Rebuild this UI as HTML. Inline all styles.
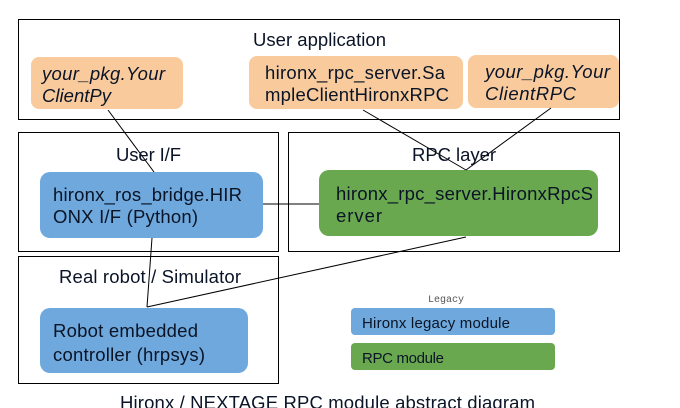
<!DOCTYPE html>
<html><head><meta charset="utf-8"><style>
html,body{margin:0;padding:0;background:#fff;width:680px;height:408px;overflow:hidden}
svg{display:block}
</style></head><body>
<svg width="680" height="408" viewBox="0 0 680 408" font-family="'Liberation Sans', Arial, sans-serif">
<g fill="none" stroke="#000" stroke-width="1">
<rect x="18.5" y="19.5" width="601" height="100"/>
<rect x="18.5" y="132.5" width="260" height="119"/>
<rect x="288.5" y="132.5" width="331" height="119"/>
<rect x="18.5" y="256.5" width="260" height="127"/>
</g>
<g fill="#f9cb9c">
<rect x="31" y="57" width="152" height="52" rx="8"/>
<rect x="249" y="56" width="214" height="53" rx="8"/>
<rect x="468" y="55" width="151" height="53" rx="8"/>
</g>
<rect x="40" y="172" width="223" height="66" rx="10" fill="#6fa8dc"/>
<rect x="319" y="170" width="279" height="66" rx="10" fill="#6aa84f"/>
<rect x="40" y="308" width="208" height="65" rx="10" fill="#6fa8dc"/>
<rect x="351" y="308" width="204" height="27" rx="4" fill="#6fa8dc"/>
<rect x="351" y="343" width="204" height="27" rx="4" fill="#6aa84f"/>
<g stroke="#000" stroke-width="1" fill="none">
<line x1="108" y1="110" x2="154" y2="172"/>
<line x1="363" y1="110" x2="466" y2="170"/>
<line x1="551" y1="108" x2="466" y2="170"/>
<line x1="263" y1="204" x2="319" y2="204"/>
<line x1="152" y1="238" x2="147" y2="307"/>
<line x1="466" y1="237" x2="147" y2="307"/>
</g>
<g font-size="18.5" fill="#0a1426">
<text x="253" y="46" textLength="133">User application</text>
<text x="116" y="161" textLength="65">User I/F</text>
<text x="412" y="161" textLength="84">RPC layer</text>
<text x="59" y="283" textLength="182">Real robot / Simulator</text>
<text x="42" y="80" font-style="italic" textLength="123">your_pkg.Your</text>
<text x="42" y="102" font-style="italic" textLength="69">ClientPy</text>
<text x="265" y="79" textLength="180">hironx_rpc_server.Sa</text>
<text x="265" y="101" textLength="184">mpleClientHironxRPC</text>
<text x="485" y="78" font-style="italic" textLength="125">your_pkg.Your</text>
<text x="485" y="100" font-style="italic" textLength="91">ClientRPC</text>
<text x="53" y="201" textLength="189">hironx_ros_bridge.HIR</text>
<text x="53" y="223" textLength="145">ONX I/F (Python)</text>
<text x="336" y="200" textLength="257">hironx_rpc_server.HironxRpcS</text>
<text x="336" y="222" textLength="46">erver</text>
<text x="53" y="337" textLength="145">Robot embedded</text>
<text x="53" y="361" textLength="152">controller (hrpsys)</text>
<text x="120" y="409" textLength="415">Hironx / NEXTAGE RPC module abstract diagram</text>
</g>
<g font-size="15" fill="#0a1426">
<text x="362" y="328" textLength="148">Hironx legacy module</text>
<text x="362" y="363" textLength="82">RPC module</text>
</g>
<text x="428" y="302" font-size="10" font-family="'Liberation Mono', monospace" fill="#555">Legacy</text>
</svg>
</body></html>
